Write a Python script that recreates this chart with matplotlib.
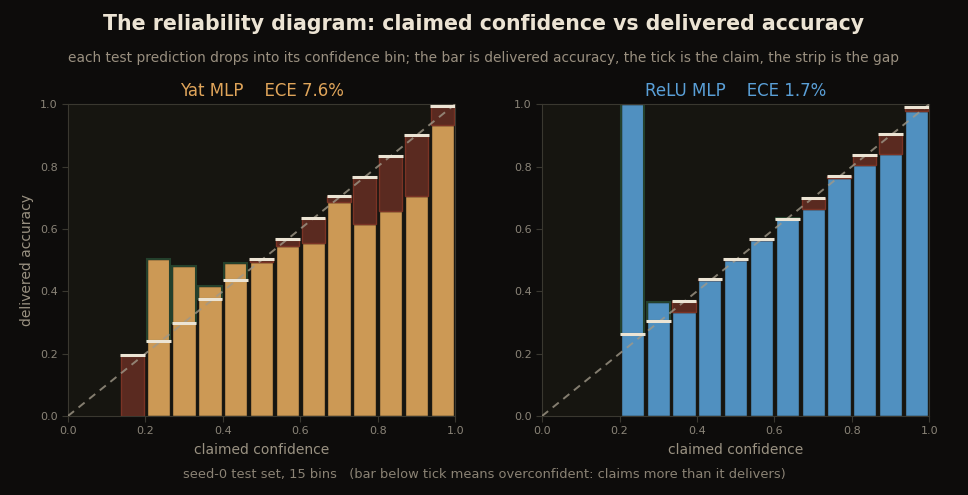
import numpy as np
import matplotlib
matplotlib.use("Agg")
import matplotlib.pyplot as plt

# 15 equal-width confidence bins, only occupied ones listed
n_bins = 15

yat_bins = [2, 3, 4, 5, 6, 7, 8, 9, 10, 11, 12, 13, 14]
yat_conf = [0.195, 0.240, 0.297, 0.374, 0.435, 0.503, 0.567, 0.634, 0.705, 0.766, 0.833, 0.900, 0.994]
yat_acc = [0.0, 0.502, 0.482, 0.418, 0.492, 0.495, 0.545, 0.554, 0.686, 0.615, 0.657, 0.705, 0.933]

relu_bins = [3, 4, 5, 6, 7, 8, 9, 10, 11, 12, 13, 14]
relu_conf = [0.262, 0.304, 0.368, 0.439, 0.503, 0.567, 0.631, 0.698, 0.769, 0.836, 0.904, 0.990]
relu_acc = [1.0, 0.367, 0.333, 0.437, 0.500, 0.565, 0.636, 0.665, 0.763, 0.806, 0.840, 0.979]

panels = [
    ("Yat MLP", "ECE 7.6%", "#cc9955", "#e0a55a", yat_bins, yat_conf, yat_acc),
    ("ReLU MLP", "ECE 1.7%", "#5090c0", "#5aa0d8", relu_bins, relu_conf, relu_acc),
]

BG = "#0d0c0b"
AX_BG = "#161510"
SPINE = "#3a3830"
TICK_TXT = "#8a8478"
LABEL_TXT = "#9a9282"

fig = plt.figure(figsize=(9.68, 4.95), dpi=100, facecolor=BG)

fig.text(0.5, 0.951, "The reliability diagram: claimed confidence vs delivered accuracy",
         ha="center", va="center", fontsize=14.8, fontweight="bold", color="#ece4d4")
fig.text(0.5, 0.883, "each test prediction drops into its confidence bin; the bar is delivered accuracy, "
         "the tick is the claim, the strip is the gap",
         ha="center", va="center", fontsize=9.9, color="#9a9080")
fig.text(0.5, 0.042, "seed-0 test set, 15 bins   (bar below tick means overconfident: claims more than it delivers)",
         ha="center", va="center", fontsize=9.4, color="#8a8274")

lefts = [0.0702, 0.560]
width = 0.400
bar_w = 0.9 / n_bins

for i, (name, ece, col, title_col, bins, conf, acc) in enumerate(panels):
    ax = fig.add_axes([lefts[i], 0.1596, width, 0.630], facecolor=AX_BG)
    centers = (np.array(bins) + 0.5) / n_bins
    conf = np.array(conf)
    acc = np.array(acc)

    ax.plot([0, 1], [0, 1], ls=(0, (4, 3)), color="#a09888", lw=1.4, alpha=0.8, zorder=3)

    ax.bar(centers, acc, width=bar_w, color=col, edgecolor="#1a1812", lw=1.0, zorder=2)

    # gap strip between claim and delivery
    for x, c, a in zip(centers, conf, acc):
        if a < c:
            ax.bar(x, c - a, bottom=a, width=bar_w, color="#5a2a20",
                   edgecolor="#7a3325", lw=1.0, zorder=2.5)
        elif a > c:
            ax.bar(x, a - c, bottom=c, width=bar_w, color="none",
                   edgecolor="#24402c", lw=1.5, zorder=2.5)

    # claimed confidence tick
    ax.hlines(conf, centers - bar_w * 0.53, centers + bar_w * 0.53,
              color="#ece4d4", lw=2.2, zorder=4)

    ax.set_xlim(0, 1)
    ax.set_ylim(0, 1)
    ax.set_xticks(np.arange(0, 1.01, 0.2))
    ax.set_yticks(np.arange(0, 1.01, 0.2))
    ax.tick_params(colors=SPINE, labelcolor=TICK_TXT, labelsize=8, length=4)
    for s in ax.spines.values():
        s.set_color(SPINE)
    ax.set_xlabel("claimed confidence", color=LABEL_TXT, fontsize=10, labelpad=5)
    if i == 0:
        ax.set_ylabel("delivered accuracy", color=LABEL_TXT, fontsize=10)
    ax.set_title(name + "    " + ece, color=title_col, fontsize=12, pad=6)

fig.savefig("out.png", dpi=100, facecolor=BG)
